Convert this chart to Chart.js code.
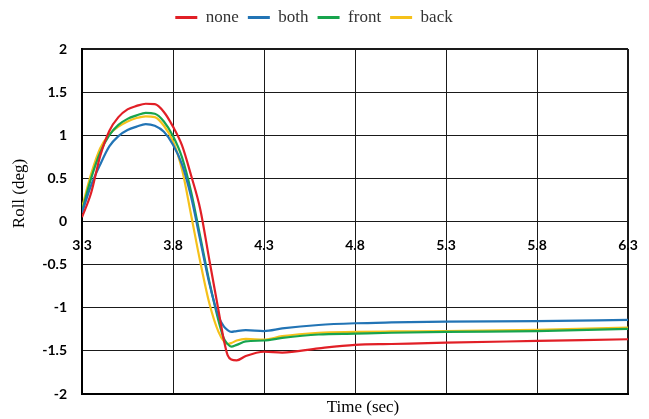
<!DOCTYPE html>
<html><head><meta charset="utf-8">
<script src="https://cdn.jsdelivr.net/npm/chart.js@4"></script>
<style>html,body{margin:0;padding:0;background:#fff}#wrap{width:649px;height:419px;position:relative}</style>
</head><body><div id="wrap"><canvas id="c"></canvas></div>
<script>
const time  = [3.30,3.35,3.40,3.45,3.50,3.55,3.60,3.65,3.70,3.75,3.80,3.85,3.90,3.95,4.00,4.05,4.08,4.10,4.12,4.15,4.20,4.30,4.40,4.60,4.80,5.00,5.30,5.80,6.30];
const none  = [0.05,0.33,0.76,1.05,1.21,1.30,1.34,1.365,1.36,1.27,1.10,0.88,0.53,0.14,-0.45,-1.03,-1.38,-1.55,-1.60,-1.61,-1.56,-1.51,-1.52,-1.47,-1.43,-1.42,-1.405,-1.385,-1.365];
const both  = [0.10,0.42,0.66,0.87,0.99,1.06,1.10,1.13,1.11,1.04,0.89,0.66,0.28,-0.22,-0.72,-1.10,-1.22,-1.26,-1.28,-1.27,-1.26,-1.27,-1.24,-1.20,-1.18,-1.17,-1.16,-1.155,-1.14];
const front = [0.12,0.50,0.80,1.00,1.12,1.19,1.23,1.26,1.25,1.16,0.99,0.74,0.34,-0.18,-0.70,-1.15,-1.36,-1.42,-1.45,-1.43,-1.39,-1.38,-1.35,-1.31,-1.30,-1.29,-1.28,-1.27,-1.245];
const back  = [0.16,0.55,0.85,1.01,1.10,1.16,1.20,1.22,1.21,1.11,0.93,0.60,0.07,-0.47,-0.95,-1.28,-1.39,-1.42,-1.41,-1.38,-1.36,-1.37,-1.33,-1.29,-1.28,-1.275,-1.27,-1.255,-1.23];
const seriesNames = ['none','both','front','back'];
const seriesValues = [none, both, front, back];
const xTicks = [3.3,3.8,4.3,4.8,5.3,5.8,6.3];
const yTicks = [-2,-1.5,-1,-0.5,0,0.5,1,1.5,2];
const xTitle = 'Time (sec)';
const yTitle = 'Roll (deg)';

const colors = ['#e11f26','#2274b5','#17a44d','#f5c11a'];
const serif = '"Liberation Serif", "Times New Roman", serif';
const sans = 'Lato, "Liberation Sans", sans-serif';

const datasets = seriesNames.map((n,i)=>({
  label:n,
  data: time.map((t,j)=>({x:t,y:seriesValues[i][j]})),
  borderColor: colors[i], backgroundColor: colors[i],
  borderWidth: 2.2, pointRadius: 0, cubicInterpolationMode:'monotone', fill:false
}));

const setTicks = arr => s => { s.ticks = arr.map(v=>({value:v})); };
const noPad = s => { s.paddingLeft = 0; s.paddingRight = 0; s.paddingTop = 0; s.paddingBottom = 0; };

const titlePlugin = {
  id:'axisTitles',
  afterDraw(chart){
    const {ctx, chartArea:a} = chart;
    ctx.save();
    ctx.fillStyle = '#000';
    ctx.font = '17px ' + serif;
    ctx.textAlign = 'center';
    ctx.textBaseline = 'middle';
    ctx.fillText(xTitle, (a.left+a.right)/2 + 8, a.bottom + 14);
    ctx.translate(a.left - 62, (a.top+a.bottom)/2 - 28);
    ctx.rotate(-Math.PI/2);
    ctx.fillText(yTitle, 0, 0);
    ctx.restore();
  }
};

new Chart(document.getElementById('c'), {
  type:'line',
  data:{datasets},
  plugins:[titlePlugin],
  options:{
    responsive:true, maintainAspectRatio:false, animation:false, devicePixelRatio:1,
    layout:{padding:{left:0,right:21,top:0,bottom:0}},
    plugins:{
      legend:{
        position:'top', align:'center',
        labels:{
          font:{family:serif,size:17}, color:'#333', boxWidth:22, boxHeight:3, padding:9,
          generateLabels: ch => Chart.defaults.plugins.legend.labels.generateLabels(ch).map(l=>({...l,lineWidth:0}))
        }
      },
      title:{display:true, text:'', position:'top', weight:500, padding:0, font:{size:13, lineHeight:1}},
      tooltip:{enabled:false}
    },
    scales:{
      x:{
        type:'linear', min:3.3, max:6.3, position:'bottom',
        afterBuildTicks: setTicks(xTicks),
        afterFit: s => { s.height = 25; noPad(s); },
        ticks:{display:false},
        grid:{color:'#1a1a1a', lineWidth: c => (c.tick && c.tick.value===6.3) ? 2 : 1, drawTicks:false},
        border:{color:'#000', width:2}
      },
      x2:{
        type:'linear', axis:'x', min:3.3, max:6.3, position:{y:0},
        afterBuildTicks: setTicks(xTicks),
        afterFit: noPad,
        grid:{display:false, drawTicks:false},
        border:{display:false},
        ticks:{font:{family:sans,size:14,weight:'bold'}, color:'#000', padding:16, maxRotation:0, autoSkip:false, callback:v=>String(v)}
      },
      y:{
        min:-2, max:2,
        afterBuildTicks: setTicks(yTicks),
        afterFit: s => { s.width = 82; noPad(s); },
        ticks:{font:{family:sans,size:14,weight:'bold'}, color:'#000', padding:15, callback:v=>String(v)},
        grid:{color:'#1a1a1a', lineWidth: c => (c.tick && c.tick.value===2) ? 2 : 1, drawTicks:false},
        border:{color:'#000', width:2}
      }
    }
  }
});
</script></body></html>
